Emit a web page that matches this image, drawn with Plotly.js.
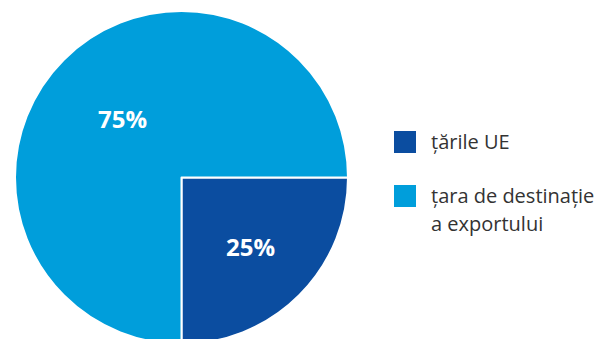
<!DOCTYPE html>
<html>
<head>
<meta charset="utf-8">
<script src="https://cdn.plot.ly/plotly-3.0.1.min.js"></script>
<style>
html,body{margin:0;padding:0;overflow:hidden;background:#fff;}
#chart{width:609px;height:355px;}
</style>
</head>
<body>
<div id="chart"></div>
<script>
const labels = ["țările UE", "țara de destinație<br>a exportului"];
const values = [25, 75];
const colors = ["#0B4DA0", "#009EDB"];

const W = 609, H = 355;
const shapes = [];
const annotations = [];
const legendX0 = 394, legendSize = 22, textX = 429;
const itemTop = [142, 196];
const lineGap = 28;
labels.forEach((lab, i) => {
  const cy = itemTop[i];
  shapes.push({
    type: "rect", xref: "paper", yref: "paper",
    x0: legendX0 / W, x1: (legendX0 + legendSize) / W,
    y0: 1 - (cy + legendSize / 2) / H, y1: 1 - (cy - legendSize / 2) / H,
    fillcolor: colors[i], line: {width: 0}
  });
  lab.split("<br>").forEach((line, j) => {
    annotations.push({
      xref: "paper", yref: "paper", x: textX / W, y: 1 - (cy - 1 + j * lineGap) / H,
      xanchor: "left", yanchor: "middle", showarrow: false, text: line,
      font: {family: "Open Sans", size: 20, color: "#333333"}
    });
  });
});

const data = [{
  type: "pie",
  labels: labels,
  values: values,
  sort: false,
  direction: "clockwise",
  rotation: 90,
  marker: {colors: colors, line: {color: "#ffffff", width: 2}},
  textinfo: "percent",
  textposition: "inside",
  insidetextorientation: "horizontal",
  textfont: {family: "Open Sans", size: 24, color: "#ffffff", weight: "bold"},
  hoverinfo: "label+percent",
  domain: {x: [15 / W, 348 / W], y: [11 / H, 344 / H]}
}];

const layout = {
  width: W, height: H,
  margin: {l: 0, r: 0, t: 0, b: 0},
  showlegend: false,
  paper_bgcolor: "#ffffff",
  shapes: shapes,
  annotations: annotations
};

Plotly.newPlot("chart", data, layout, {displayModeBar: false, staticPlot: true});
</script>
</body>
</html>
